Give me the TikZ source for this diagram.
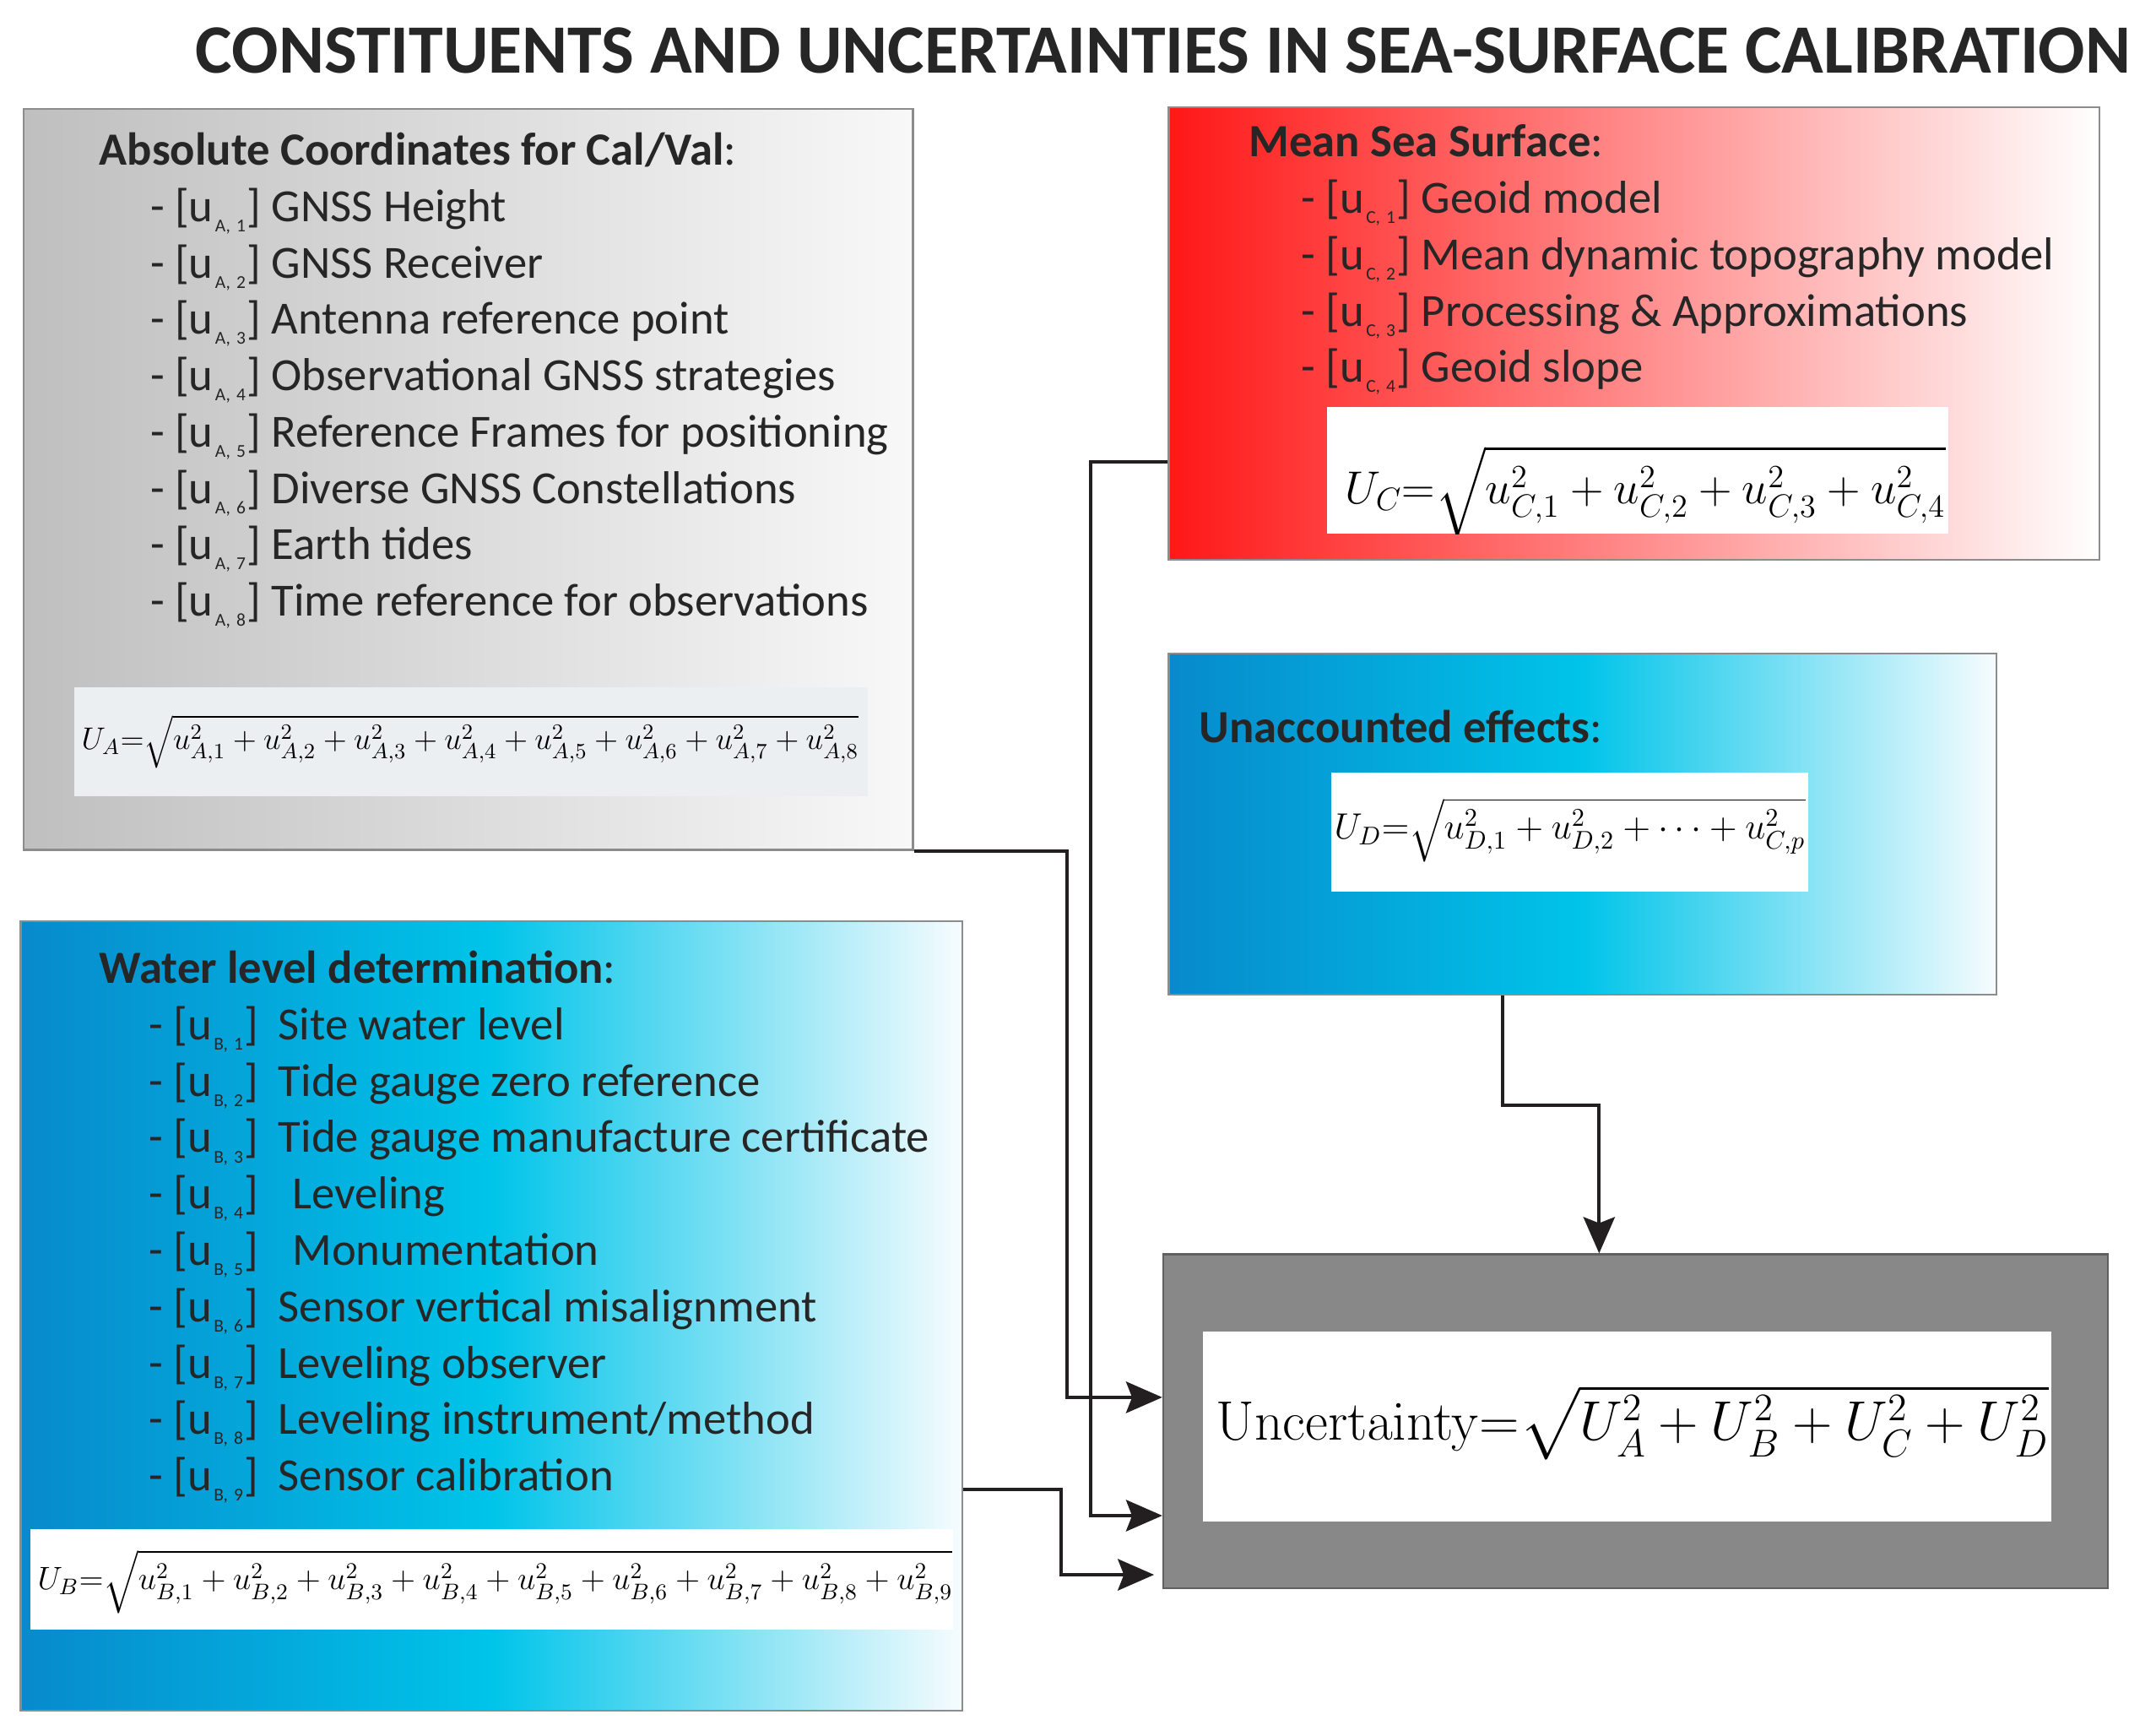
\RequirePackage{fix-cm}
\documentclass[tikz,border=0pt]{standalone}
\usepackage[no-math]{fontspec}
\setmainfont{Carlito}
\usepackage{amsmath}
\usetikzlibrary{arrows.meta,fit}
\definecolor{txt}{HTML}{262626}
\definecolor{grayL}{HTML}{BFBFBF}
\definecolor{grayR}{HTML}{F8F8F8}
\definecolor{blueL}{HTML}{078ACC}
\definecolor{blueM}{HTML}{00C4E9}
\definecolor{blueR}{HTML}{F7FCFE}
\definecolor{redL}{HTML}{FF1717}
\definecolor{boxline}{HTML}{8C8C8C}
\definecolor{resbox}{HTML}{888888}
\definecolor{faback}{HTML}{ECEFF1}
\definecolor{arr}{HTML}{231F20}
\newcommand\myfs[1]{\fontsize{#1}{#1}\selectfont}
\newcommand\usub[2]{u\raisebox{-4.2pt}{\fontsize{7.5}{7.5}\selectfont\hspace{0.8pt}#1,\hspace{2.5pt}#2\hspace{0.6pt}}}
\begin{document}
\begin{tikzpicture}[x=0.02cm,y=-0.02cm,
  panel/.style={draw=boxline,line width=0.8pt,inner sep=0pt},
  eqbox/.style={fill=white,draw=none,inner sep=0pt},
  listitem/.style={anchor=base west,inner sep=0pt,text=txt,font=\myfs{19.1}},
  boxhead/.style={anchor=base west,inner sep=0pt,text=txt,font=\myfs{19.1}},
  eqtext/.style={anchor=base west,inner sep=0pt,text=black},
  conn/.style={line width=1.4pt,draw=arr,-{Stealth[length=15pt,width=13pt,inset=2.5pt]}},
  ]
\useasboundingbox (0,0) rectangle (1568,1262);

% title
\node[anchor=base west,inner sep=0pt,text=txt,font=\myfs{28.65}\bfseries] (title) at (142,53)
  {CONSTITUENTS AND UNCERTAINTIES IN SEA-SURFACE CALIBRATION};

% ---------- Box A ----------
\node[panel,fit={(17,79)(664,618)},left color=grayL,right color=grayR] (A) {};
\node[boxhead] (Ahead) at (72,120) {\textbf{Absolute Coordinates for Cal/Val}:};
\foreach \t [count=\i] in {GNSS Height,GNSS Receiver,Antenna reference point,Observational GNSS strategies,Reference Frames for positioning,Diverse GNSS Constellations,Earth tides,Time reference for observations}
  \node[listitem] (a\i) at (109,{120+41*\i}) {- [\usub{A}{\i}] \t};
\node[eqbox,fill=faback,fit={(54,500)(631,579)}] (FA) {};
\begin{scope}
\clip (54,500) rectangle (631,579);
\node[eqtext,font=\myfs{12.9}] (fa) at (59,545)
  {$U_A{=}\sqrt{u_{A,1}^2+u_{A,2}^2+u_{A,3}^2+u_{A,4}^2+u_{A,5}^2+u_{A,6}^2+u_{A,7}^2+u_{A,8}^2}$};
\end{scope}

% ---------- Box B ----------
\node[panel,fit={(15,670)(700,1244)},left color=blueL,right color=blueR,middle color=blueM] (B) {};
\node[boxhead] (Bhead) at (72,715) {\textbf{Water level determination}:};
\foreach \t [count=\i] in {Site water level,Tide gauge zero reference,Tide gauge manufacture certificate,{\hspace{0.3em}Leveling},{\hspace{0.3em}Monumentation},Sensor vertical misalignment,Leveling observer,Leveling instrument/method,Sensor calibration}
  \node[listitem] (b\i) at (108,{715+41*\i}) {- [\usub{B}{\i}]\hspace{0.2em} \t};
\node[eqbox,fit={(22,1112)(693,1185)}] (FB) {};
\begin{scope}
\clip (22,1112) rectangle (693,1185);
\node[eqtext,font=\myfs{13.35}] (fb) at (27,1156)
  {$U_B{=}\sqrt{u_{B,1}^2+u_{B,2}^2+u_{B,3}^2+u_{B,4}^2+u_{B,5}^2+u_{B,6}^2+u_{B,7}^2+u_{B,8}^2+u_{B,9}^2}$};
\end{scope}

% ---------- Box C ----------
\node[panel,fit={(850,78)(1527,407)},left color=redL,right color=white] (C) {};
\node[boxhead] (Chead) at (908,114) {\textbf{Mean Sea Surface}:};
\foreach \t [count=\i] in {Geoid model,Mean dynamic topography model,Processing \& Approximations,Geoid slope}
  \node[listitem] (c\i) at (946,{114+41*\i}) {- [\usub{C}{\i}] \t};
\node[eqbox,fit={(965,296)(1417,388)}] (FC) {};
\begin{scope}
\clip (965,296) rectangle (1417,388);
\node[eqtext,font=\myfs{19.1}] (fc) at (978,366)
  {$U_C{=}\sqrt{u_{C,1}^2+u_{C,2}^2+u_{C,3}^2+u_{C,4}^2}$};
\end{scope}

% ---------- Box D ----------
\node[panel,fit={(850,475)(1452,723)},left color=blueL,right color=blueR,middle color=blueM] (D) {};
\node[boxhead] (Dhead) at (872,540) {\textbf{Unaccounted effects}:};
\node[eqbox,fit={(968,562)(1315,648)}] (FD) {};
\begin{scope}
\clip (968,562) rectangle (1315,648);
\node[eqtext,font=\myfs{15.1}] (fd) at (970,610)
  {$U_D{=}\sqrt{u_{D,1}^2+u_{D,2}^2+\cdots+u_{C,p}^2}$};
\end{scope}

% ---------- Box E ----------
\node[panel,fit={(846,912)(1533,1155)},fill=resbox,draw=gray!75!black] (E) {};
\node[eqbox,fit={(875,968)(1492,1106)}] (FE) {};
\begin{scope}
\clip (875,968) rectangle (1492,1106);
\node[eqtext,font=\myfs{23}] (fe) at (884,1047)
  {$\mathrm{Uncertainty}{=}\sqrt{U_A^2+U_B^2+U_C^2+U_D^2}$};
\end{scope}

% ---------- connectors ----------
\draw[conn] (A.south east) -- ++(111,0) |- (E.west |- 0,1016);
\draw[conn] (C.west |- 0,336) -- ++(-56,0) |- (E.west |- 0,1102);
\draw[conn,shorten >=3.4pt] (B.east |- 0,1083) -- ++(71,0) |- (E.west |- 0,1145);
\draw[conn] (D.south -| 1093,0) -- ++(0,80) -| (E.north -| 1163,0);
\end{tikzpicture}
\end{document}
